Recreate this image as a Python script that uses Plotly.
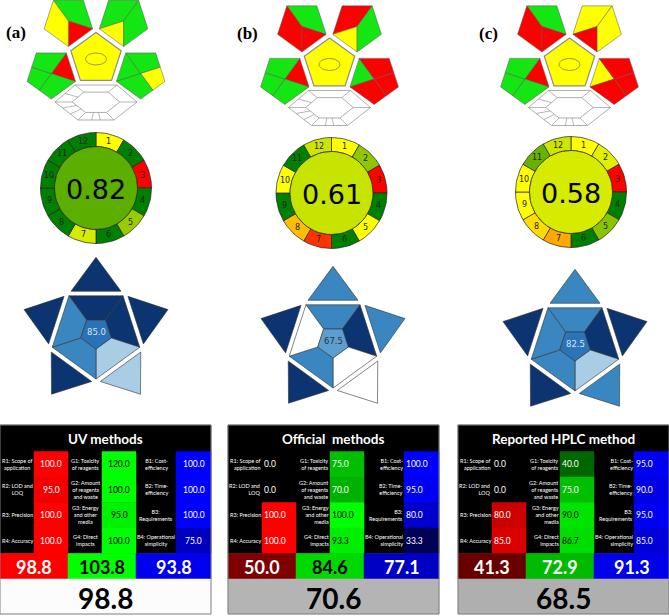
import math
import plotly.graph_objects as go

# ---------------- data ----------------
panel_labels = ["(a)", "(b)", "(c)"]

# ComplexGAPI fields (G = green, Y = yellow, R = red)
gapi_top_left = [["G", "R", "Y"], ["G", "R", "R"], ["G", "R", "R"]]
gapi_top_right = [["G", "Y", "G"], ["R", "Y", "G"], ["Y", "R", "Y"]]
gapi_left = [["R", "G", "G", "G"], ["R", "G", "G", "G"], ["R", "G", "G", "G"]]
gapi_right = [["G", "G", "Y", "G"], ["G", "R", "R", "R"], ["Y", "R", "R", "R"]]

# AGREE
agree_total = [0.82, 0.61, 0.58]
agree_a = [0.5, 1.0, 0.0, 1.0, 0.7, 1.0, 0.58, 1.0, 1.0, 1.0, 1.0, 1.0]
agree_b = [0.5, 0.72, 0.0, 1.0, 0.5, 1.0, 0.1, 0.37, 1.0, 0.5, 1.0, 0.6]
agree_c = [0.5, 0.56, 0.0, 1.0, 0.73, 1.0, 0.33, 0.43, 0.5, 0.5, 0.8, 0.6]
agree_numbers = [str(i) for i in range(1, 13)]

# blue pentagon star: 0 white, 1 light, 2 mid, 3 dark
star_score = [85.0, 67.5, 82.5]
star_triangles = [[3, 3, 1, 3, 3], [2, 2, 0, 3, 3], [2, 3, 2, 3, 3]]   # top, upper-right, lower-right, lower-left, upper-left
star_segments = [[3, 3, 1, 2, 2], [2, 3, 0, 2, 0], [2, 3, 1, 2, 2]]

# RGB 12 tables
rgb_titles = ["UV methods", "Official\u00a0 methods", "Reported HPLC method"]
red_labels = ["R1: Scope of<br>application", "R2: LOD and<br>LOQ", "R3: Precision", "R4: Accuracy"]
green_labels = ["G1: Toxicity<br>of reagents", "G2: Amount<br>of reagents<br>and waste",
                "G3: Energy<br>and other<br>media", "G4: Direct<br>impacts"]
blue_labels = ["B1: Cost-<br>efficiency", "B2: Time-<br>efficiency", "B3:<br>Requirements",
               "B4: Operational<br>simplicity"]
red_scores = [[100.0, 95.0, 100.0, 100.0], [0.0, 0.0, 100.0, 100.0], [0.0, 0.0, 80.0, 85.0]]
green_scores = [[120.0, 100.0, 95.0, 100.0], [75.0, 70.0, 100.0, 93.3], [40.0, 75.0, 90.0, 86.7]]
blue_scores = [[100.0, 100.0, 100.0, 75.0], [100.0, 95.0, 80.0, 33.3], [95.0, 90.0, 95.0, 85.0]]
red_mean = [98.8, 50.0, 41.3]
green_mean = [103.8, 84.6, 72.9]
blue_mean = [93.8, 77.1, 91.3]
whiteness = [98.8, 70.6, 68.5]

# ---------------- layout (pixel positions) ----------------
gapi_xy = [(96, 59), (329.5, 64.5), (569.5, 64.5)]
ring_xy = [(96, 188), (331.5, 193), (571, 192)]
star_xy = [(96, 333), (333, 342), (575, 345)]
table_x = [0, 228, 458]
label_xy = [(16, 32), (247, 33), (488, 33)]

fig = go.Figure()


def pt(cx, cy, r, deg):
    a = math.radians(deg)
    return cx + r * math.cos(a), cy - r * math.sin(a)


def mid(p, q):
    return (p[0] + q[0]) / 2, (p[1] + q[1]) / 2


def add_poly(pts, fill, line="#444", width=0.6):
    xs = [p[0] for p in pts] + [pts[0][0]]
    ys = [p[1] for p in pts] + [pts[0][1]]
    fig.add_trace(go.Scatter(x=xs, y=ys, mode="lines", fill="toself", fillcolor=fill,
                             line=dict(color=line, width=width), hoverinfo="skip"))


def add_line(xs, ys, color="#444", width=0.6):
    fig.add_trace(go.Scatter(x=xs, y=ys, mode="lines", line=dict(color=color, width=width),
                             hoverinfo="skip"))


def add_text(x, y, text, size, color="black", family="Lato", weight="normal", xanchor="center"):
    fig.add_annotation(x=x, y=y, text=text, showarrow=False, xanchor=xanchor, yanchor="middle",
                       align=xanchor, borderpad=0,
                       font=dict(size=size, color=color, family=family, weight=weight))


# ---------------- ComplexGAPI ----------------
gapi_col = {"G": "#14e614", "Y": "#ffff00", "R": "#ff0000"}


def gapi(k):
    cx, cy = gapi_xy[k]
    add_poly([pt(cx, cy, 26.5, 90 + 72 * i) for i in range(5)], "#ffff00", "#8c8c8c", 1.2)
    t = [i * 2 * math.pi / 40 for i in range(41)]
    add_line([cx + 10.5 * math.cos(a) for a in t], [cy + 6 * math.sin(a) for a in t], "#555", 0.6)

    for key, ang in (("tl", 126), ("tr", 54), ("l", 198), ("r", -18)):
        O = pt(cx, cy, 47, ang)
        v = {d: pt(O[0], O[1], 25.5, d) for d in (54, 126, 198, 270, 342)}
        if key == "tl":
            regs = [[O, v[126], v[54], v[342]], [O, v[342], v[270]], [O, v[270], v[198], v[126]]]
            cols = gapi_top_left[k]
        elif key == "tr":
            regs = [[O, v[198], v[126], v[54]], [O, v[270], v[198]], [O, v[54], v[342], v[270]]]
            cols = gapi_top_right[k]
        elif key == "l":
            m1, m2 = mid(v[270], v[198]), mid(v[198], v[126])
            regs = [[O, v[54], v[342]], [O, v[342], v[270], m1], [O, m1, v[198], m2],
                    [O, m2, v[126], v[54]]]
            cols = gapi_left[k]
        else:
            m1, m2 = mid(v[54], v[342]), mid(v[342], v[270])
            regs = [[O, v[198], v[126]], [O, v[126], v[54], m1], [O, m1, v[342], m2],
                    [O, m2, v[270], v[198]]]
            cols = gapi_right[k]
        for reg, c in zip(regs, cols):
            add_poly(reg, gapi_col[c], "#555", 0.5)

    # bottom hexagon (white fields)
    hx, hy = cx, cy + 43
    outer = [(-41, 0), (-21, -17), (21, -17), (41, 0), (18, 18), (-18, 18)]
    op = [(hx + a, hy + b) for a, b in outer]
    ip = [(hx + 0.58 * a, hy + 0.58 * b) for a, b in outer]
    add_poly(op, "white", "#9a9a9a", 0.8)
    add_poly(ip, "white", "#9a9a9a", 0.8)
    xs, ys = [], []
    for p, q in zip(op, ip):
        xs += [p[0], q[0], None]
        ys += [p[1], q[1], None]
    for e, fr in ((0, 0.5), (5, 1 / 3), (5, 2 / 3), (4, 0.38), (4, 0.62)):
        a0, a1 = op[e], op[(e + 1) % 6]
        b0, b1 = ip[e], ip[(e + 1) % 6]
        xs += [a0[0] + fr * (a1[0] - a0[0]), b0[0] + fr * (b1[0] - b0[0]), None]
        ys += [a0[1] + fr * (a1[1] - a0[1]), b0[1] + fr * (b1[1] - b0[1]), None]
    add_line(xs, ys, "#9a9a9a", 0.7)


# ---------------- AGREE ----------------
def agree_colour(s):
    if s <= 0.5:
        return f"rgb(255,{round(510 * s)},0)"
    t = (s - 0.5) / 0.5
    return f"rgb({round(255 * (1 - t))},{round(255 - 127 * t)},0)"


def agree(k, scores):
    cx, cy = ring_xy[k]
    R, r = 55.5, 41.5
    for i, s in enumerate(scores):
        a0, a1 = 90 - 30 * i, 90 - 30 * (i + 1)
        arc = [a0 + (a1 - a0) * j / 12 for j in range(13)]
        pts = [pt(cx, cy, R, a) for a in arc] + [pt(cx, cy, r, a) for a in reversed(arc)]
        add_poly(pts, agree_colour(s), "#222", 0.7)
        tx, ty = pt(cx, cy, 48.5, 90 - 30 * (i + 0.5))
        add_text(tx, ty, agree_numbers[i], 8, "#222", "DejaVu Sans")
    circ = [pt(cx, cy, r, 360 * j / 60) for j in range(60)]
    add_poly(circ, agree_colour(agree_total[k]), "#222", 0.7)
    add_text(cx, cy + 1, f"{agree_total[k]:.2f}", 27, "black", "DejaVu Sans")


# ---------------- blue star ----------------
blues = ["#ffffff", "#a9cde4", "#3a86c1", "#0b3470"]
star_centre_fill = ["#2a72b8", "#5b9fd2", "#2c74b8"]
star_text_col = ["#d6e4f3", "#333333", "#d6e4f3"]


def star(k):
    cx, cy = star_xy[k]
    Rb, Ri = 46, 16
    ap = Rb * math.cos(math.radians(36))
    edges = [(126, 54, 90), (54, 342, 18), (342, 270, -54), (270, 198, -126), (198, 126, 162)]
    for j, (a, b, n) in enumerate(edges):
        seg = [pt(cx, cy, Rb, a), pt(cx, cy, Rb, b), pt(cx, cy, Ri, b), pt(cx, cy, Ri, a)]
        add_poly(seg, blues[star_segments[k][j]], "#333", 0.6)
        d0 = ap + 4.5
        bx, by = pt(cx, cy, d0, n)
        tx, ty = math.cos(math.radians(n + 90)), -math.sin(math.radians(n + 90))
        tri = [(bx + 25 * tx, by + 25 * ty), pt(cx, cy, d0 + 34, n), (bx - 25 * tx, by - 25 * ty)]
        add_poly(tri, blues[star_triangles[k][j]], "#333", 0.6)
    add_poly([pt(cx, cy, Ri, a) for a in (54, 126, 198, 270, 342)], star_centre_fill[k], "#333", 0.6)
    add_text(cx, cy - 1, f"{star_score[k]:.1f}", 8.5, star_text_col[k], "DejaVu Sans")


# ---------------- RGB table ----------------
def rect(xa, xb, ya, yb, fill):
    add_poly([(xa, ya), (xb, ya), (xb, yb), (xa, yb)], fill, fill, 0.5)


def shade(v, ch):
    c = round(min(v, 100) * 2.55)
    return {"r": f"rgb({c},0,0)", "g": f"rgb(0,{c},0)", "b": f"rgb(0,0,{c})"}[ch]


def table(k):
    x0 = table_x[k]
    cx = [x0 + c for c in (0, 34, 68, 102, 136, 176, 211)]
    y0 = 425.0
    yt = y0 + 26.5
    rows = [yt + 25.5 * i for i in range(5)]
    ys = rows[4] + 25.5
    yf = min(ys + 35, 615.5)
    rect(cx[0], cx[6], y0, rows[4], "black")
    add_text((cx[0] + cx[6]) / 2, (y0 + yt) / 2 + 1, rgb_titles[k], 13.5, "white", "Lato", "bold")
    centred = k == 0
    for ch, lab, sc, c0 in (("r", red_labels, red_scores[k], 0), ("g", green_labels, green_scores[k], 2),
                            ("b", blue_labels, blue_scores[k], 4)):
        for i in range(4):
            ya, yb = rows[i], rows[i + 1]
            v = sc[i]
            rect(cx[c0 + 1], cx[c0 + 2], ya, yb, shade(v, ch))
            tc = "black" if (ch == "g" and v >= 80) else "white"
            if centred:
                add_text((cx[c0] + cx[c0 + 1]) / 2, (ya + yb) / 2, lab[i], 5.5, "white")
                add_text((cx[c0 + 1] + cx[c0 + 2]) / 2, (ya + yb) / 2, f"{v:.1f}", 8.5, tc)
            else:
                add_text(cx[c0 + 1] - 0.5, (ya + yb) / 2, lab[i], 5.5, "white", xanchor="right")
                add_text(cx[c0 + 1] + 1, (ya + yb) / 2, f"{v:.1f}", 8.5, tc, xanchor="left")
    for ch, v, c0 in (("r", red_mean[k], 0), ("g", green_mean[k], 2), ("b", blue_mean[k], 4)):
        rect(cx[c0], cx[c0 + 2], rows[4], ys, shade(v, ch))
        tc = "black" if (ch == "g" and v >= 80) else "white"
        add_text((cx[c0] + cx[c0 + 2]) / 2, (rows[4] + ys) / 2 + 1, f"{v:.1f}", 18, tc, "Lato", "bold")
    g = round(whiteness[k] * 2.55)
    rect(cx[0], cx[6], ys, yf, f"rgb({g},{g},{g})")
    add_text((cx[0] + cx[6]) / 2, (ys + yf) / 2 + 1, f"{whiteness[k]:.1f}", 28, "black", "Lato", "bold")
    add_line([cx[0], cx[6], cx[6], cx[0], cx[0]], [y0, y0, yf, yf, y0], "#7f7f7f", 1)


agree_all = [agree_a, agree_b, agree_c]
for k in range(3):
    gapi(k)
    agree(k, agree_all[k])
    star(k)
    table(k)
    add_text(label_xy[k][0], label_xy[k][1], panel_labels[k], 17, "black", "Liberation Serif", "bold")

fig.update_layout(
    width=669, height=616,
    margin=dict(l=0, r=0, t=0, b=0),
    paper_bgcolor="white", plot_bgcolor="white",
    showlegend=False,
    xaxis=dict(range=[0, 669], visible=False, fixedrange=True),
    yaxis=dict(range=[616, 0], visible=False, fixedrange=True),
)

# the page body has a default 8px margin; remove it so the figure sits at the window corner
fig.write_html("out.html", config={"displayModeBar": False},
               post_script="document.body.style.margin='0';document.body.style.overflow='hidden';")
